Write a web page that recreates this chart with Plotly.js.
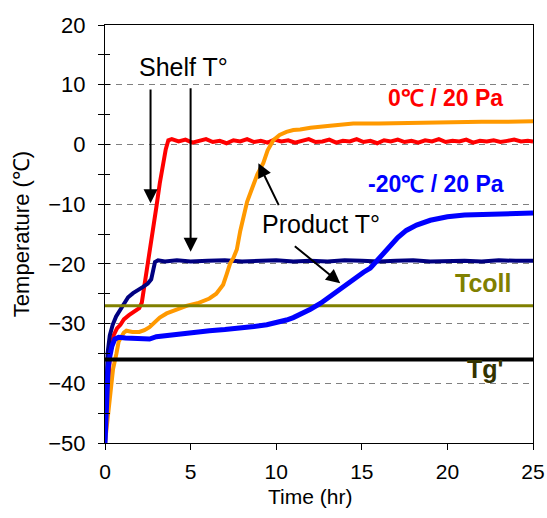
<!DOCTYPE html>
<html>
<head>
<meta charset="utf-8">
<script src="https://cdn.plot.ly/plotly-3.0.1.min.js"></script>
<style>html,body{margin:0;padding:0;background:#fff;}#chart{width:547px;height:518px;}</style>
</head>
<body>
<div id="chart"></div>
<script>
// Shelf temperature, 0°C / 20 Pa cycle
const shelf0X = [0,0.15,0.3,0.5,0.7,0.9,1.1,1.4,1.7,2.0,2.15,2.3,2.45,2.62,2.8,3.0,3.2,3.4,3.55,3.7,3.9,
  4.3,4.7,5.1,5.5,5.9,6.3,6.7,7.1,7.5,7.9,8.3,8.7,9.1,9.5,9.9,10.3,10.7,11.1,11.5,11.9,12.3,12.7,13.1,13.5,13.9,14.3,14.7,15.1,15.5,15.9,16.3,16.7,17.1,17.5,17.9,18.3,18.7,19.1,19.5,19.9,20.3,20.7,21.1,21.5,21.9,22.3,22.7,23.1,23.5,23.9,24.3,24.7,25];
const shelf0Y = [-48,-40,-35,-32,-30.8,-30.2,-29.3,-28.6,-28,-27.4,-26.5,-23.8,-20.5,-17.5,-14.2,-10.5,-6.5,-3,-0.8,0.7,0.9,
  0.5,0.8,0.3,0.6,0.9,0.4,0.6,0.2,0.7,0.5,0.9,0.4,0.6,0.3,0.8,0.5,0.7,0.3,0.6,0.9,0.4,0.5,0.8,0.3,0.6,0.5,0.9,0.4,0.6,0.2,0.7,0.5,0.8,0.4,0.6,0.3,0.7,0.5,0.9,0.4,0.6,0.5,0.8,0.3,0.6,0.5,0.7,0.4,0.6,0.8,0.5,0.6,0.5];

// Shelf temperature, -20°C / 20 Pa cycle
const shelf20X = [0,0.04,0.08,0.15,0.28,0.45,0.65,0.87,1.1,1.35,1.64,1.9,2.2,2.5,2.7,2.82,2.92,3.1,3.5,4.2,5,6,7,8,9,10,11,12,13,14,15,16,17,18,19,20,21,22,23,24,25];
const shelf20Y = [-50,-44,-38,-35,-32,-30.2,-28.8,-27.7,-26.6,-25.6,-24.9,-24.5,-23.9,-23.3,-22.6,-21,-19.7,-19.4,-19.6,-19.4,-19.6,-19.5,-19.4,-19.6,-19.5,-19.4,-19.6,-19.5,-19.6,-19.4,-19.5,-19.6,-19.5,-19.4,-19.6,-19.5,-19.5,-19.6,-19.4,-19.5,-19.5];

// Product temperature, 0°C / 20 Pa cycle
const prod0X = [0,0.08,0.2,0.28,0.47,0.67,0.8,0.96,1.1,1.25,1.6,2.0,2.3,2.6,2.9,3.2,3.6,4.2,4.8,5.4,6.1,6.5,6.9,7.1,7.3,7.5,7.7,7.9,8.1,8.3,8.6,8.9,9.25,9.5,9.84,10.2,10.6,11.0,11.4,12,13,14.5,16,17.5,19,20.5,22,23.5,25];
const prod0Y = [-50,-47.8,-44,-42,-37.6,-35,-33,-32.2,-31.5,-31.2,-31.4,-31.4,-31.1,-30.6,-29.8,-29,-28.3,-27.6,-27,-26.6,-25.8,-25,-23.5,-21.8,-20,-19,-17.6,-14.5,-11.8,-9.6,-7.3,-5,-3.1,-1,0.75,1.6,2.1,2.4,2.5,2.8,3.1,3.5,3.5,3.6,3.7,3.7,3.8,3.8,3.9];

// Product temperature, -20°C / 20 Pa cycle
const prod20X = [0,0.04,0.1,0.18,0.28,0.4,0.57,0.8,1.2,2,2.6,3.0,3.8,4.56,5.3,6.1,7.0,7.9,8.7,9.45,10.1,10.6,11.0,11.4,12.0,12.6,13.2,13.75,14.2,14.7,15.1,15.5,16.1,16.6,17.1,17.6,18.2,19,20,21,22.9,25];
const prod20Y = [-50,-45.6,-41.5,-37.5,-35.5,-33.8,-32.6,-32.3,-32.4,-32.5,-32.6,-32.2,-31.9,-31.6,-31.4,-31.2,-31.0,-30.8,-30.5,-30.2,-29.8,-29.4,-29.0,-28.5,-27.6,-26.6,-25.3,-24.1,-23.1,-22.1,-21.4,-20.7,-18.8,-17.1,-15.6,-14.4,-13.5,-12.7,-12.1,-11.8,-11.6,-11.5];

// Reference temperatures
const refX = [0, 25];
const tColl = -27;
const tGlass = -36;

// Axis ticks
const yTicks = [-50,-40,-30,-20,-10,0,10,20];
const xTicks = [0,5,10,15,20,25];

const font = 'Liberation Sans, Arial, sans-serif';

const traces = [
  {x: shelf0X, y: shelf0Y, mode: 'lines', line: {color: '#FF0000', width: 4}, hoverinfo: 'skip'},
  {x: shelf20X, y: shelf20Y, mode: 'lines', line: {color: '#000080', width: 4}, hoverinfo: 'skip'},
  {x: prod0X, y: prod0Y, mode: 'lines', line: {color: '#FF9900', width: 4}, hoverinfo: 'skip'},
  {x: refX, y: refX.map(() => tColl), mode: 'lines', line: {color: '#808000', width: 3}, hoverinfo: 'skip'},
  {x: prod20X, y: prod20Y, mode: 'lines', line: {color: '#0000FF', width: 5}, hoverinfo: 'skip'},
  {x: refX, y: refX.map(() => tGlass), mode: 'lines', line: {color: '#000000', width: 4}, hoverinfo: 'skip'},
  {x: refX, y: [-50, -50], yaxis: 'y2', mode: 'lines', line: {width: 0}, opacity: 0, hoverinfo: 'skip'}
];

function arrow(x, y, ax, ay) {
  return {x: x, y: y, ax: ax, ay: ay, xref: 'x', yref: 'y', axref: 'x', ayref: 'y',
    text: '', showarrow: true, arrowhead: 2, arrowsize: 1.4, arrowwidth: 2, arrowcolor: '#000', standoff: 0, startstandoff: 0};
}
function label(x, y, text, size, color, bold) {
  return {x: x, y: y, xref: 'x', yref: 'y', text: bold ? '<b>' + text + '</b>' : text, showarrow: false,
    font: {family: font, size: size, color: color}, xanchor: 'center', yanchor: 'middle'};
}

const layout = {
  width: 547, height: 518,
  margin: {l: 105, r: 14, t: 25, b: 75},
  paper_bgcolor: '#fff', plot_bgcolor: '#fff',
  showlegend: false,
  font: {family: font, size: 21, color: '#000'},
  xaxis: {
    range: [0, 25], tickvals: xTicks, ticks: 'outside', ticklen: 6, tickcolor: '#000',
    showline: true, linecolor: '#000', linewidth: 1, mirror: true, showgrid: false, zeroline: false,
    tickfont: {family: font, size: 21}, ticklabelstandoff: 4
  },
  yaxis: {
    range: [-50, 20], tickvals: yTicks, ticks: 'outside', ticklen: 6, tickcolor: '#000',
    minor: {dtick: 5, tick0: 0, ticks: 'outside', ticklen: 6, tickcolor: '#000', showgrid: false},
    showline: true, linecolor: '#000', linewidth: 1, mirror: true,
    showgrid: true, gridcolor: '#808080', gridwidth: 1, griddash: '6px,5px', zeroline: false,
    tickfont: {family: font, size: 22}, ticklabelstandoff: 8,
    title: {text: 'Temperature (℃)', font: {family: font, size: 22}, standoff: 12}
  },
  yaxis2: {
    range: [-50, 20], overlaying: 'y', side: 'left', dtick: 5, tick0: 0, ticks: 'inside', ticklen: 5,
    tickcolor: '#000', showticklabels: false, showgrid: false, zeroline: false, showline: false
  },
  annotations: [
    {x: 0.479, y: -0.127, xref: 'paper', yref: 'paper', text: 'Time (hr)', showarrow: false,
      font: {family: font, size: 21, color: '#000'}, xanchor: 'center', yanchor: 'middle'},
    label(4.61, 13.0, 'Shelf T°', 25, '#000', false),
    arrow(2.66, -9.85, 2.66, 9.46),
    arrow(5.0, -17.96, 5.0, 9.68),
    label(12.63, -13.3, 'Product T°', 25, '#000', false),
    arrow(8.96, -3.15, 10.19, -10.42),
    arrow(13.74, -23.25, 11.0, -16.83),
    label(19.89, 7.7, '0℃ / 20 Pa', 23, '#FF0000', true),
    label(19.36, -6.7, '-20℃ / 20 Pa', 23, '#0000FF', true),
    label(22.06, -23.2, 'Tcoll', 25, '#808000', true),
    label(22.23, -37.6, "Tg'", 25, '#333300', true)
  ]
};

Plotly.newPlot('chart', traces, layout, {staticPlot: true, displayModeBar: false});
</script>
</body>
</html>
